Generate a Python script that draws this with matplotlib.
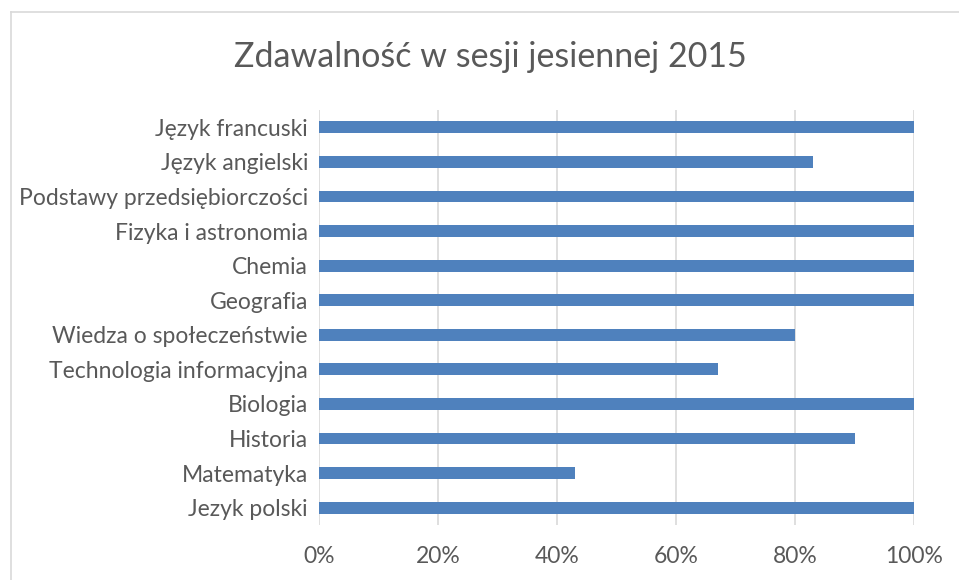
import matplotlib.pyplot as plt
from matplotlib.ticker import PercentFormatter
from matplotlib.lines import Line2D

plt.rcParams['font.family'] = ['Lato', 'DejaVu Sans']

categories = ['Jezyk polski', 'Matematyka', 'Historia', 'Biologia',
              'Technologia informacyjna', 'Wiedza o społeczeństwie', 'Geografia',
              'Chemia', 'Fizyka i astronomia', 'Podstawy przedsiębiorczości',
              'Język angielski', 'Język francuski']
values = [1.0, 0.43, 0.90, 1.0, 0.67, 0.80, 1.0, 1.0, 1.0, 1.0, 0.83, 1.0]
xticks = [0, 0.2, 0.4, 0.6, 0.8, 1.0]

text_color = '#595959'
grid_color = '#D9D9D9'

fig = plt.figure(figsize=(9.59, 5.8), dpi=100)
ax = fig.add_axes([319 / 959, 1 - 525 / 580, 595 / 959, 415 / 580])

ax.barh(range(len(categories)), values, height=0.34, color='#4F81BD', zorder=3)
ax.set_yticks(range(len(categories)))
ax.set_yticklabels(categories)
ax.set_ylim(-0.5, len(categories) - 0.5)
ax.set_xlim(0, 1.0)
ax.set_xticks(xticks)
ax.xaxis.set_major_formatter(PercentFormatter(1.0, decimals=0))

ax.grid(axis='x', color=grid_color, linewidth=1.2, zorder=0)
for s in ax.spines.values():
    s.set_visible(False)
ax.tick_params(axis='both', length=0, labelsize=16.5, labelcolor=text_color)
ax.tick_params(axis='y', pad=8)
ax.tick_params(axis='x', pad=15)

fig.text(490 / 959, 1 - 57 / 580, 'Zdawalność w sesji jesiennej 2015',
         ha='center', va='center', fontsize=24.5, color=text_color)

# ramka wykresu (ucięta z prawej i z dołu)
fig.add_artist(Line2D([10.5 / 959, 10.5 / 959], [0, 1 - 11.5 / 580],
                      transform=fig.transFigure, color=grid_color, linewidth=1.2))
fig.add_artist(Line2D([10.5 / 959, 1], [1 - 11.5 / 580, 1 - 11.5 / 580],
                      transform=fig.transFigure, color=grid_color, linewidth=1.2))

fig.savefig('out.png', dpi=100, facecolor='white')
